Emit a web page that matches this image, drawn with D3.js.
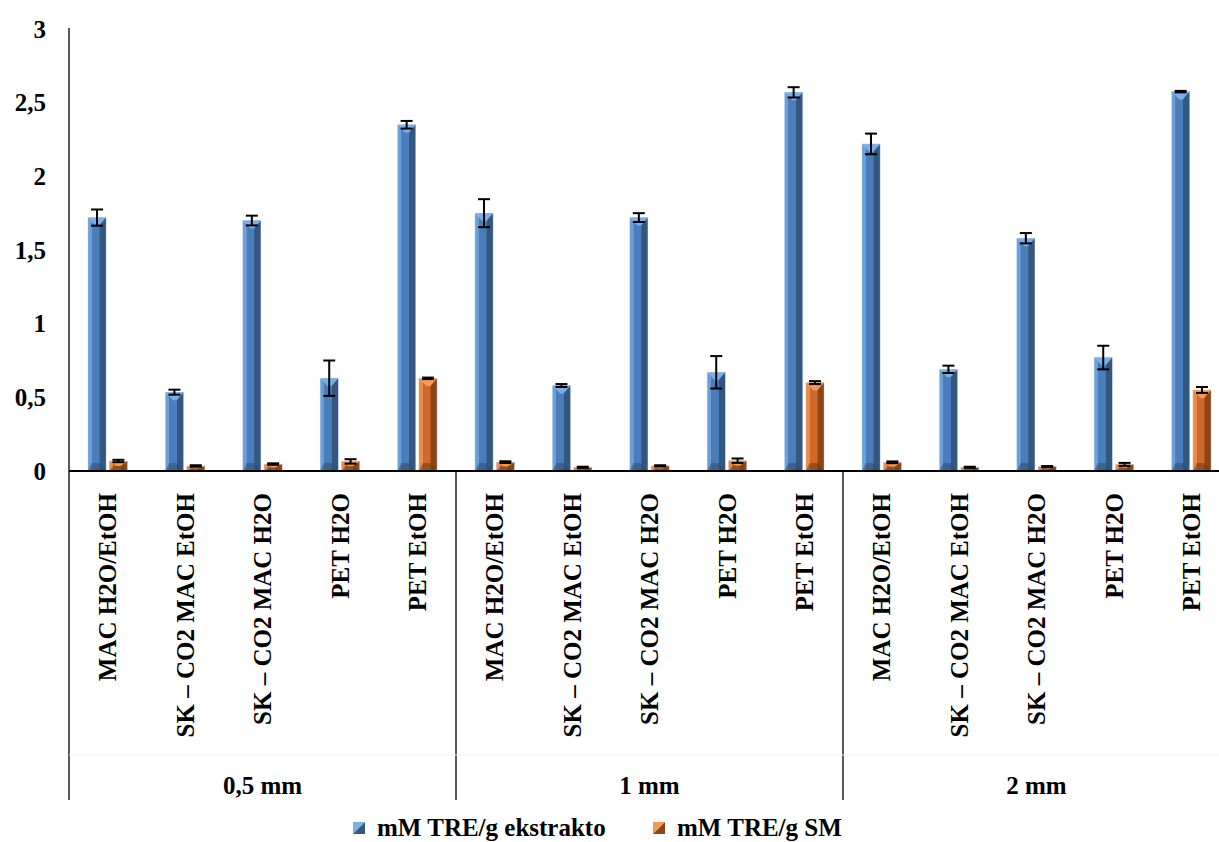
<!DOCTYPE html>
<html>
<head>
<meta charset="utf-8">
<script src="https://cdn.jsdelivr.net/npm/d3@7"></script>
<style>
  html, body { margin: 0; padding: 0; background: #fff; }
  svg { display: block; }
  text { font-family: "Liberation Serif", "Times New Roman", serif; font-weight: 700; fill: #000; }
</style>
</head>
<body>
<svg id="chart" width="1219" height="842"></svg>
<script>
// Particle-size groups and extraction methods
const groups = ["0,5 mm", "1 mm", "2 mm"];
const methods = ["MAC H2O/EtOH", "SK – CO2 MAC EtOH", "SK – CO2 MAC H2O", "PET H2O", "PET EtOH"];
const seriesNames = ["mM TRE/g ekstrakto", "mM TRE/g SM"];

// Values per group, in method order
const extractValues = [
  [1.72, 0.535, 1.70, 0.63, 2.35],
  [1.75, 0.58, 1.72, 0.67, 2.57],
  [2.22, 0.69, 1.58, 0.77, 2.575]
];
const extractErrors = [
  [0.055, 0.017, 0.033, 0.12, 0.026],
  [0.095, 0.01, 0.03, 0.11, 0.035],
  [0.07, 0.025, 0.035, 0.08, 0.005]
];
const smValues = [
  [0.068, 0.034, 0.047, 0.065, 0.629],
  [0.06, 0.025, 0.035, 0.07, 0.60],
  [0.059, 0.025, 0.03, 0.045, 0.55]
];
const smErrors = [
  [0.008, 0.005, 0.005, 0.015, 0.005],
  [0.006, 0.004, 0.004, 0.015, 0.01],
  [0.006, 0.004, 0.004, 0.01, 0.02]
];
const yTicks = [0, 0.5, 1, 1.5, 2, 2.5, 3];

// Flatten into one row per (group, method)
const rows = [];
groups.forEach((g, gi) => methods.forEach((m, mi) => {
  rows.push({
    key: gi + "|" + mi, group: g, method: m,
    bars: [
      { s: 0, v: extractValues[gi][mi], e: extractErrors[gi][mi] },
      { s: 1, v: smValues[gi][mi], e: smErrors[gi][mi] }
    ]
  });
}));

const svg = d3.select("#chart");
const plotLeft = 69, plotRight = 1230, plotTop = 29, base = 471, axisBottom = 800;
const fontSize = 25;

const x = d3.scaleBand().domain(rows.map(r => r.key)).range([plotLeft, plotRight]);
const x1 = d3.scaleBand().domain([0, 1]).range([x.bandwidth() * 0.245, x.bandwidth() * 0.755]).paddingInner(0.15);
const y = d3.scaleLinear().domain([0, 3]).range([base, plotTop]);

// Bevel shading
const palette = [
  { light: "#6a9fd9", mid: "#4a7ebb", dark: "#34577f", top: "#7aafe8", low: "#2c4a6c" },
  { light: "#ec8a47", mid: "#cd6a2b", dark: "#8c4517", top: "#f59a55", low: "#6f3612" }
];
const defs = svg.append("defs");
palette.forEach((p, i) => {
  const g = defs.append("linearGradient").attr("id", "bar" + i).attr("x1", 0).attr("x2", 1).attr("y1", 0).attr("y2", 0);
  [[0, p.light], [0.2, p.light], [0.22, p.mid], [0.62, p.mid], [0.66, p.dark], [1, p.dark]].forEach(([o, c]) =>
    g.append("stop").attr("offset", o).attr("stop-color", c));
});

// Y axis tick labels
svg.append("g").selectAll("text").data(yTicks).join("text")
  .attr("x", 46).attr("y", d => y(d)).attr("dy", "0.35em")
  .attr("text-anchor", "end").attr("font-size", fontSize).attr("font-weight", 700)
  .text(d => d3.format(".1~f")(d).replace(".", ","));

// Bars
const cat = svg.append("g").selectAll("g").data(rows).join("g")
  .attr("transform", d => `translate(${x(d.key)},0)`);

const bar = cat.selectAll("g").data(d => d.bars).join("g");
bar.each(function(d) {
  const g = d3.select(this);
  const p = palette[d.s];
  const bx = x1(d.s), w = x1.bandwidth();
  const yt = y(d.v), h = base - yt;
  g.append("rect").attr("x", bx).attr("y", yt).attr("width", w).attr("height", h)
    .attr("fill", `url(#bar${d.s})`);
  const b = Math.min(8, h / 2);
  // top bevel
  g.append("path").attr("fill", p.top)
    .attr("d", `M${bx},${yt}L${bx + w},${yt}L${bx + w * 0.62},${yt + b}L${bx + w * 0.42},${yt + b}Z`);
  // bottom bevel
  g.append("path").attr("fill", p.low)
    .attr("d", `M${bx},${base}L${bx + w * 0.22},${base - b}L${bx + w * 0.62},${base - b}L${bx + w},${base}Z`)
    .attr("opacity", 0.55);
  // soft outline
  g.append("rect").attr("x", bx).attr("y", yt).attr("width", w).attr("height", h)
    .attr("fill", "none").attr("stroke", "#c9d6e6").attr("stroke-width", 0.6).attr("opacity", 0.6);
});

// Error bars
bar.each(function(d) {
  const g = d3.select(this);
  const cx = x1(d.s) + x1.bandwidth() / 2;
  const y1 = y(d.v + d.e), y2 = y(Math.max(0, d.v - d.e));
  const cap = 6;
  g.append("line").attr("x1", cx).attr("x2", cx).attr("y1", y1).attr("y2", y2)
    .attr("stroke", "#000").attr("stroke-width", 2);
  [y1, y2].forEach(yy => g.append("line").attr("x1", cx - cap).attr("x2", cx + cap)
    .attr("y1", yy).attr("y2", yy).attr("stroke", "#000").attr("stroke-width", 2));
});

// Axis lines
svg.append("line").attr("x1", plotLeft).attr("x2", plotLeft).attr("y1", plotTop - 1).attr("y2", axisBottom)
  .attr("stroke", "#000").attr("stroke-width", 1.3);
svg.append("line").attr("x1", plotLeft).attr("x2", plotRight).attr("y1", base).attr("y2", base)
  .attr("stroke", "#000").attr("stroke-width", 2);
// Group separators
const groupW = (plotRight - plotLeft) / groups.length;
svg.append("g").selectAll("line").data(groups.slice(1)).join("line")
  .attr("x1", (d, i) => plotLeft + (i + 1) * groupW).attr("x2", (d, i) => plotLeft + (i + 1) * groupW)
  .attr("y1", base).attr("y2", axisBottom).attr("stroke", "#000").attr("stroke-width", 1.3);
svg.append("line").attr("x1", plotLeft).attr("x2", plotRight).attr("y1", 755).attr("y2", 755)
  .attr("stroke", "#f2f2f2").attr("stroke-width", 1);

// Method labels (rotated)
svg.append("g").selectAll("text").data(rows).join("text")
  .attr("transform", d => `translate(${x(d.key) + x.bandwidth() / 2},493) rotate(-90)`)
  .attr("dy", "0.35em").attr("text-anchor", "end").attr("font-size", fontSize).attr("font-weight", 700)
  .text(d => d.method);

// Group labels
svg.append("g").selectAll("text").data(groups).join("text")
  .attr("x", (d, i) => plotLeft + (i + 0.5) * groupW).attr("y", 794)
  .attr("text-anchor", "middle").attr("font-size", fontSize).attr("font-weight", 700)
  .text(d => d);

// Legend
const legend = svg.append("g");
const legendX = [353, 653];
seriesNames.forEach((name, i) => {
  const p = palette[i];
  const lx = legendX[i], ly = 822, s = 12;
  legend.append("path").attr("d", `M${lx},${ly}L${lx + s},${ly}L${lx},${ly + s}Z`).attr("fill", p.top);
  legend.append("path").attr("d", `M${lx + s},${ly}L${lx + s},${ly + s}L${lx},${ly + s}Z`).attr("fill", p.dark);
  legend.append("text").attr("x", lx + 24).attr("y", 836).attr("font-size", fontSize).attr("font-weight", 700).text(name);
});
</script>
</body>
</html>
